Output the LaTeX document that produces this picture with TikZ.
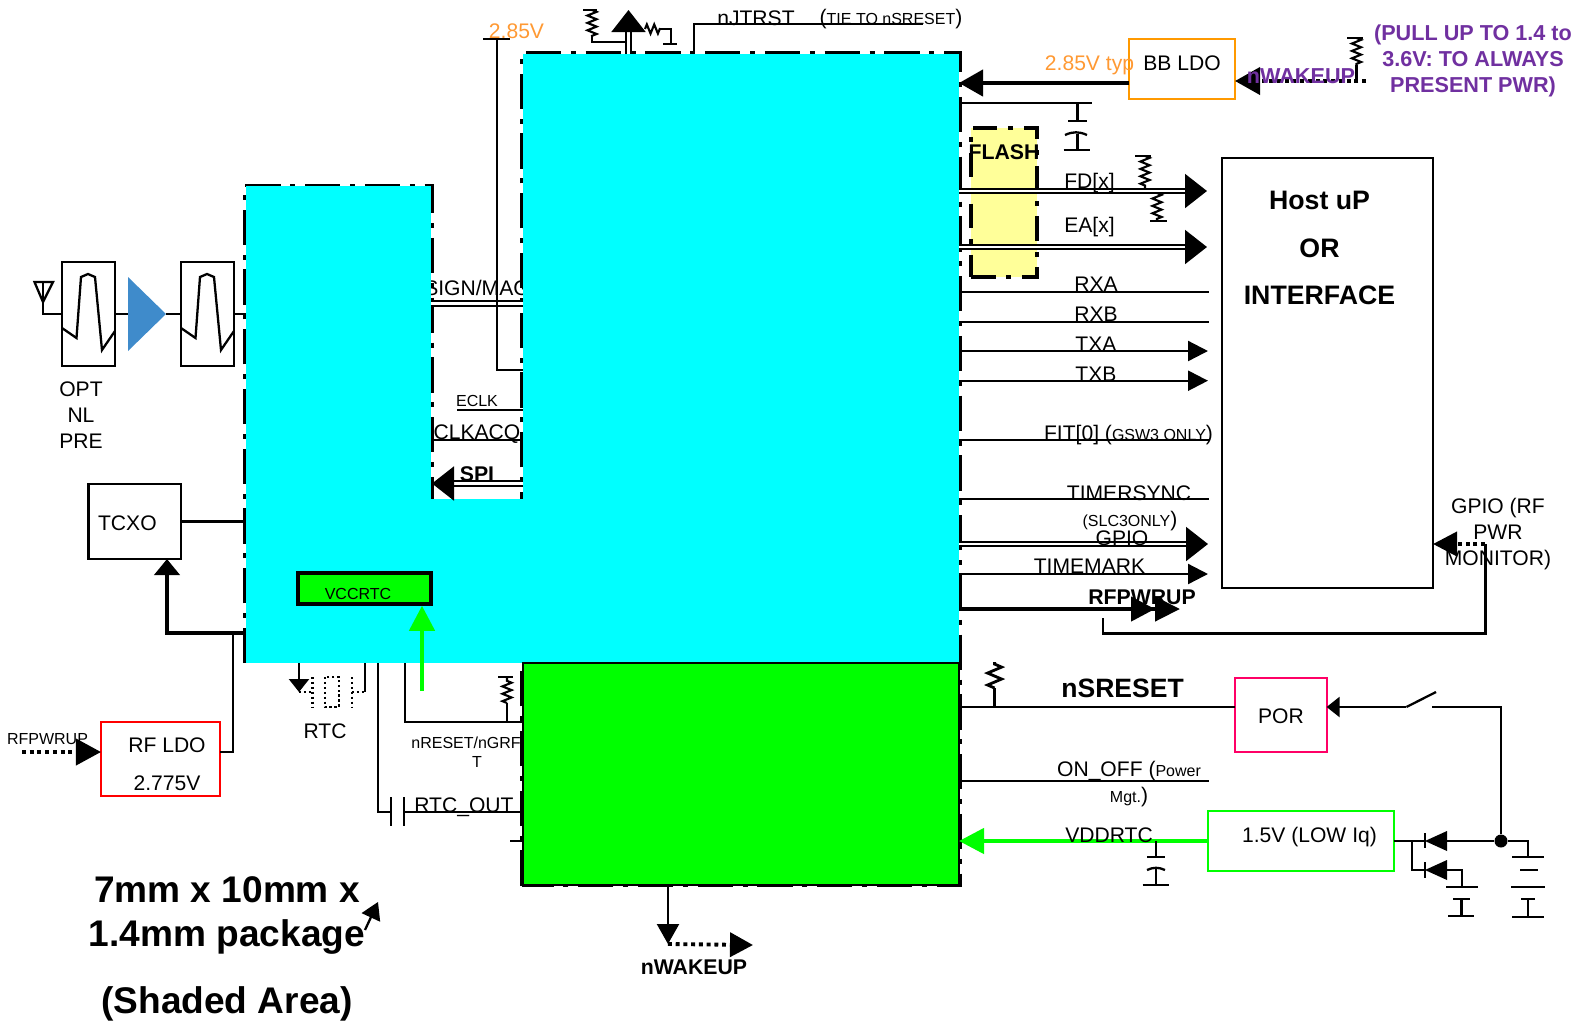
\documentclass[tikz,border=0pt]{standalone}
\usepackage{fontspec}
\setmainfont{Liberation Sans}
\usepackage{xcolor}
\usepackage{tikz}
\usetikzlibrary{arrows.meta,positioning,calc,decorations.pathmorphing}
\definecolor{chipcyan}{HTML}{00FFFF}
\definecolor{rtcgreen}{HTML}{00FF00}
\definecolor{ldoorange}{HTML}{FF9900}
\definecolor{txtorange}{HTML}{FF9933}
\definecolor{pwrpurple}{HTML}{7030A0}
\definecolor{porpink}{HTML}{FF0066}
\definecolor{ampblue}{HTML}{3F8BCB}
\definecolor{flashyellow}{HTML}{FFFF99}
\newcommand{\smallsig}{\fontsize{4.55}{5.5}\selectfont}
\tikzset{
  chipcore/.style  = {rectangle, fill=chipcyan, inner sep=0pt, outer sep=0pt},
  rtccore/.style   = {rectangle, fill=rtcgreen, draw=black, line width=.3pt, inner sep=0pt, outer sep=0pt},
  chipedge/.style  = {draw=black, line width=1pt, dash pattern=on 10pt off 2.8pt on 1.4pt off 2.8pt},
  partbox/.style   = {rectangle, draw=black, line width=.65pt, fill=white, inner sep=0pt, outer sep=0pt},
  ldobox/.style    = {rectangle, line width=.55pt, fill=white, inner sep=0pt, outer sep=0pt},
  wire/.style      = {draw=black, line width=.65pt},
  heavywire/.style = {draw=black, line width=1.25pt},
  buswire/.style   = {draw=black, line width=.55pt, double=white, double distance=.8pt},
  dotwire/.style   = {draw=black, line width=1.1pt, dash pattern=on 1.1pt off 1.1pt},
  xtalwire/.style  = {draw=black, line width=.75pt, dash pattern=on .7pt off .7pt},
  greenwire/.style = {draw=rtcgreen, line width=1.25pt},
  reswire/.style   = {draw=black, line width=.6pt, decorate,
                      decoration={zigzag, amplitude=1.3pt, segment length=2.1pt}},
  tipbus/.style    = {-{Triangle[length=2.2mm,width=3.4mm]}},
  tipsig/.style    = {-{Triangle[length=2mm,width=2mm]}},
  siglbl/.style    = {font=\fontsize{6}{7.4}\selectfont, align=center, inner sep=0pt},
  sigsmall/.style  = {font=\smallsig, align=center, inner sep=0pt},
  sigbold/.style   = {font=\fontsize{6.05}{7.4}\selectfont\bfseries, align=center, inner sep=0pt},
  purplelbl/.style = {font=\fontsize{6.15}{7.5}\selectfont\bfseries, text=pwrpurple, align=center, inner sep=0pt},
  orangelbl/.style = {font=\fontsize{6}{7.4}\selectfont, text=txtorange, inner sep=0pt},
}
\begin{document}
\begin{tikzpicture}[y=-1cm]
  \useasboundingbox (0,0) rectangle (15.75,10.21);

  \node[siglbl] (signmag) at (4.77,2.88) {SIGN/MAG};
  \draw[chipedge] (2.45,6.63) -- (2.45,1.855) -- (4.32,1.855) -- (4.32,5);
  \draw[chipedge] (5.22,8.855) -- (5.22,.53) -- (9.6,.53) -- (9.6,8.855) -- cycle;

  \node[chipcore, minimum width=4.36cm, minimum height=6.09cm] (bbcore) at (7.41,3.585) {};
  \node[chipcore, minimum width=1.85cm, minimum height=4.77cm] (rfcore) at (3.385,4.245) {};
  \node[chipcore, minimum width=.93cm, minimum height=1.64cm]  (bridge) at (4.77,5.81) {};
  \node[rtccore, minimum width=4.36cm, minimum height=2.22cm]  (rtcblk) at (7.41,7.74) {};

  \node[partbox, minimum width=2.11cm, minimum height=4.3cm]  (host)  at (13.275,3.73) {};
  \node[ldobox, draw=ldoorange, minimum width=1.06cm, minimum height=.6cm] (bbldo) at (11.82,.69) {};
  \node[ldobox, draw=porpink, minimum width=.92cm, minimum height=.74cm]   (por)   at (12.806,7.147) {};
  \node[ldobox, draw=rtcgreen, minimum width=1.853cm, minimum height=.6cm] (lowiq) at (13.01,8.41) {};
  \node[ldobox, draw=red, minimum width=1.19cm, minimum height=.74cm]      (rfldo) at (1.605,7.59) {};
  \node[partbox, minimum width=.925cm, minimum height=.75cm]  (tcxo)  at (1.3475,5.215) {};
  \node[rectangle, draw=black, fill=rtcgreen, line width=1pt, inner sep=0pt, minimum width=1.33cm, minimum height=.31cm] (vcc) at (3.645,5.885) {};
  \node[rectangle, draw=black, fill=flashyellow, line width=1.1pt, inner sep=0pt,
        dash pattern=on 7pt off 3pt on 1.5pt off 3pt, minimum width=.66cm, minimum height=1.49cm] (flash) at (10.04,2.025) {};
  \node[partbox, minimum width=.53cm, minimum height=1.04cm] (filta) at (.885,3.14) {};
  \node[partbox, minimum width=.53cm, minimum height=1.04cm] (filtb) at (2.075,3.14) {};

  \draw[wire, shift={(filta.south west)}] (0,-.38) -- (.145,-.28) -- (.19,-.89) -- (.26,-.92) -- (.33,-.89) -- (.40,-.16) -- (.53,-.35);
  \draw[wire, shift={(filtb.south west)}] (0,-.38) -- (.145,-.28) -- (.19,-.89) -- (.26,-.92) -- (.33,-.89) -- (.40,-.16) -- (.53,-.35);

  \coordinate (antfoot) at (.43,3.14);
  \coordinate (ampin)   at (1.28,3.14);
  \coordinate (ampout)  at (1.66,3.14);
  \draw[wire] (.345,2.82) -- (.53,2.82) -- (.43,3.02) -- cycle;
  \draw[wire] (.43,2.82) -- (antfoot) -- (filta.west);
  \fill[ampblue] (1.28,2.77) -- (ampout) -- (1.28,3.51) -- cycle;
  \draw[wire] (filta.east) -- (ampin);
  \draw[wire] (ampout) -- (filtb.west);
  \draw[wire] (filtb.east) -- (filtb.east -| rfcore.west);
  \draw[wire] (tcxo.east) -- (tcxo.east -| rfcore.west);

  \coordinate (rfbias) at (1.67,6.33);
  \draw[heavywire, -{Triangle[length=1.6mm,width=2.5mm]}] (rfbias -| rfcore.west) -- (rfbias) -- (tcxo.south -| rfbias);
  \coordinate (rfout) at (2.33,6.33);
  \draw[wire] (rfout) -- (2.33,7.52) -- (rfldo.east |- 0,7.52);
  \coordinate (rfpin) at (.22,7.52);
  \draw[dotwire, -{Triangle[length=2.5mm,width=2.6mm]}] (rfpin) -- (rfldo.west |- rfpin);

  \coordinate (sigtop)  at (4.97,3.035);
  \draw[buswire] (sigtop -| rfcore.east) -- (sigtop -| bbcore.west);
  \coordinate (eclkpt)  at (4.57,4.1);
  \draw[wire] (eclkpt) -- (eclkpt -| bbcore.west);
  \coordinate (clkpt)   at (4.32,4.4);
  \draw[wire] (clkpt) -- (clkpt -| bbcore.west);
  \coordinate (spipt)   at (4.32,4.835);
  \draw[buswire, tipbus] (spipt -| bbcore.west) -- (spipt);

  \coordinate (v285a) at (4.97,.39);
  \coordinate (v285b) at (4.97,3.7);
  \draw[wire] (v285a) -- (v285b) -- (v285b -| bbcore.west);
  \draw[wire] (4.83,.39) -- (5.1,.39);

  \coordinate (jtagup) at (6.285,.1);
  \draw[buswire, -{Triangle[length=2.2mm,width=3.4mm]}] (jtagup |- bbcore.north) -- (jtagup);
  \draw[wire] (5.83,.1) -- (5.97,.1);
  \draw[reswire] (5.92,.1) -- (5.92,.36);
  \draw[wire] (5.92,.36) -- (5.92,.42) -- (6.25,.42);
  \draw[reswire] (6.45,.29) -- (6.6,.29);
  \draw[wire] (6.6,.29) -- (6.71,.29) -- (6.71,.44);
  \draw[wire] (6.63,.44) -- (6.77,.44);
  \coordinate (jtrst) at (6.94,.24);
  \draw[wire] (jtrst |- bbcore.north) -- (jtrst) -- (9.23,.24);

  \draw[heavywire, -{Triangle[length=2.4mm,width=2.6mm]}] (bbldo.west |- 0,.83) -- (bbcore.east |- 0,.83);
  \coordinate (bbcap) at (10.92,1.03);
  \draw[wire] (bbcap -| bbcore.east) -- (bbcap);
  \draw[wire] (10.775,1.03) -- (10.775,1.21);
  \draw[wire] (10.68,1.21) -- (10.87,1.21);
  \draw[wire] (10.65,1.35) to[bend left=25] (10.87,1.35);
  \draw[wire] (10.775,1.34) -- (10.775,1.5);
  \draw[wire] (10.636,1.5) -- (10.895,1.5);

  \coordinate (fdend) at (12.07,1.91);
  \coordinate (eaend) at (12.07,2.47);
  \draw[buswire, tipbus] (fdend -| bbcore.east) -- (fdend);
  \draw[buswire, tipbus] (eaend -| bbcore.east) -- (eaend);
  \draw[wire] (11.35,1.56) -- (11.51,1.56);
  \draw[reswire] (11.45,1.56) -- (11.45,1.88);
  \draw[reswire] (11.57,1.93) -- (11.57,2.2);
  \draw[wire] (11.5,2.21) -- (11.67,2.21);

  \coordinate (rxaend)  at (12.09,2.917);
  \coordinate (rxbend)  at (12.09,3.217);
  \coordinate (txaend)  at (12.08,3.51);
  \coordinate (txbend)  at (12.08,3.807);
  \coordinate (fitend)  at (12.09,4.4);
  \coordinate (tsyncend) at (12.09,4.99);
  \coordinate (gpioend) at (12.08,5.44);
  \coordinate (tmarkend) at (12.08,5.74);
  \coordinate (pwrupend) at (11.8,6.09);
  \draw[wire] (rxaend -| bbcore.east) -- (rxaend);
  \draw[wire] (rxbend -| bbcore.east) -- (rxbend);
  \draw[wire, tipsig] (txaend -| bbcore.east) -- (txaend);
  \draw[wire, tipsig] (txbend -| bbcore.east) -- (txbend);
  \draw[wire] (fitend -| bbcore.east) -- (fitend);
  \draw[wire] (tsyncend -| bbcore.east) -- (tsyncend);
  \draw[buswire, tipbus] (gpioend -| bbcore.east) -- (gpioend);
  \draw[wire, tipsig] (tmarkend -| bbcore.east) -- (tmarkend);
  \draw[heavywire, -{Triangle[length=2.4mm,width=2.4mm] Triangle[length=2.5mm,width=2.4mm]}] (pwrupend -| bbcore.east) -- (pwrupend);

  \coordinate (retstart) at (11.03,6.18);
  \coordinate (gpiofb)   at (14.85,5.44);
  \draw[draw=black, line width=.85pt] (retstart) -- (11.03,6.33) -- (14.85,6.33) -- (gpiofb);
  \draw[dotwire, -{Triangle[length=2.4mm,width=2.4mm]}] (gpiofb) -- (host.east |- gpiofb);

  \coordinate (wakepin) at (13.66,.81);
  \draw[dotwire, -{Triangle[length=2.5mm,width=2.7mm]}] (wakepin) -- (bbldo.east |- wakepin);
  \draw[wire] (13.47,.38) -- (13.63,.38);
  \draw[reswire] (13.565,.38) -- (13.565,.65);
  \draw[wire] (13.565,.65) -- (13.565,.82);

  \coordinate (swa) at (14.064,7.07);
  \coordinate (swb) at (14.36,6.92);
  \coordinate (swc) at (14.32,7.07);
  \draw[wire] (swa -| por.west) -- (swa -| rtcblk.east);
  \draw[wire] (9.946,7.07) -- (9.946,6.88);
  \draw[reswire, line width=.8pt, decoration={zigzag, amplitude=2pt, segment length=3.4pt}] (9.946,6.88) -- (9.946,6.62);
  \draw[wire, -{Triangle[length=1.3mm,width=2mm]}] (swa) -- (swa -| por.east);
  \draw[wire] (swa) -- (swb);
  \node[circle, fill=black, inner sep=0pt, minimum size=.13cm] (batdot) at (15.01,8.41) {};
  \draw[wire] (swc) -- (15.01,7.07) -- (batdot);

  \coordinate (onoff) at (12.09,7.81);
  \draw[wire] (onoff -| rtcblk.east) -- (onoff);
  \draw[greenwire, -{Triangle[length=2.5mm,width=2.5mm]}] (lowiq.west) -- (lowiq.west -| rtcblk.east);
  \draw[wire] (11.56,8.41) -- (11.56,8.567);
  \draw[wire] (11.47,8.567) -- (11.65,8.567);
  \draw[wire] (11.47,8.7) to[bend left=25] (11.65,8.7);
  \draw[wire] (11.56,8.69) -- (11.56,8.85);
  \draw[wire] (11.425,8.85) -- (11.688,8.85);

  \coordinate (dioa) at (14.25,8.41);
  \coordinate (diob) at (14.25,8.7);
  \draw[wire] (lowiq.east) -- (dioa);
  \draw[wire] (14.12,8.41) -- (14.12,8.7) -- (diob);
  \draw[wire] (dioa |- 0,8.33) -- (dioa |- 0,8.48);
  \draw[wire] (diob |- 0,8.62) -- (diob |- 0,8.78);
  \fill[black] (dioa) -- (14.47,8.31) -- (14.47,8.51) -- cycle;
  \fill[black] (diob) -- (14.47,8.6) -- (14.47,8.8) -- cycle;
  \draw[wire] (14.47,8.41) -- (batdot);
  \draw[wire] (batdot) -- (15.28,8.41) -- (15.28,8.57);
  \draw[wire] (15.12,8.57) -- (15.44,8.57);
  \draw[wire] (15.2,8.7) -- (15.38,8.7);
  \draw[wire] (15.11,8.87) -- (15.447,8.87);
  \draw[wire] (15.21,8.99) -- (15.35,8.99);
  \draw[wire] (15.28,8.99) -- (15.28,9.17);
  \draw[wire] (15.12,9.17) -- (15.44,9.17);
  \draw[wire] (14.47,8.7) -- (14.62,8.7) -- (14.62,8.87);
  \draw[wire] (14.46,8.87) -- (14.78,8.87);
  \draw[wire] (14.53,8.99) -- (14.7,8.99);
  \draw[wire] (14.615,8.99) -- (14.615,9.16);
  \draw[wire] (14.48,9.16) -- (14.74,9.16);

  \coordinate (vccfeed) at (4.22,6.91);
  \draw[greenwire, -{Triangle[length=2.5mm,width=2.5mm]}] (vccfeed) -- (vccfeed |- vcc.south);

  \coordinate (xtala) at (2.99,6.92);
  \coordinate (xtalb) at (3.65,6.92);
  \draw[wire, -{Triangle[length=1.3mm,width=2mm]}] (xtala |- rfcore.south) -- (xtala);
  \draw[wire] (xtalb |- rfcore.south) -- (xtalb);
  \draw[xtalwire] (xtala) -- (3.127,6.92);
  \draw[xtalwire] (3.52,6.92) -- (xtalb);
  \draw[xtalwire] (3.127,6.77) -- (3.127,7.07);
  \draw[xtalwire] (3.52,6.77) -- (3.52,7.07);
  \draw[xtalwire] (3.25,6.77) rectangle (3.39,7.07);

  \coordinate (rtcup) at (3.78,8.12);
  \draw[wire] (rtcup |- bbcore.south) -- (rtcup) -- (3.91,8.12);
  \draw[wire] (3.91,7.97) -- (3.91,8.26);
  \draw[wire] (4.04,7.97) -- (4.04,8.26);
  \draw[wire] (4.04,8.12) -- (4.04,8.12 -| rtcblk.west);
  \coordinate (rstpt) at (4.05,7.22);
  \draw[wire] (rstpt |- bbcore.south) -- (rstpt) -- (rstpt -| rtcblk.west);
  \draw[wire] (5.07,7.22) -- (5.07,7.03);
  \draw[reswire] (5.07,7.03) -- (5.07,6.78);
  \draw[wire] (4.98,6.77) -- (5.13,6.77);
  \coordinate (stub) at (5.1,8.41);
  \draw[wire] (stub) -- (stub -| rtcblk.west);

  \coordinate (wakedn) at (6.68,9.44);
  \coordinate (wakeend) at (7.53,9.45);
  \draw[wire, -{Triangle[length=2mm,width=2.2mm]}] (wakedn |- rtcblk.south) -- (wakedn);
  \draw[dotwire, -{Triangle[length=2.3mm,width=2.4mm]}] (wakedn) -- (wakeend);

  \coordinate (pkgfoot) at (3.65,9.3);
  \coordinate (pkgtip)  at (3.78,9.02);
  \draw[wire, -{Triangle[length=1.7mm,width=2mm]}] (pkgfoot) -- (pkgtip);

  \node[orangelbl] (v285lbl) at (5.165,.31) {2.85V};
  \node[orangelbl] (typlbl)  at (10.895,.65) {2.85V typ};
  \node[siglbl]    (bblbl)   at (11.82,.63) {BB LDO};
  \node[siglbl]    (jtrstlbl) at (7.56,.18) {nJTRST};
  \node[siglbl]    (tielbl)  at (8.91,.195) {({\smallsig TIE TO nSRESET})};
  \node[purplelbl] (wakelbl) at (13.01,.76) {nWAKEUP};
  \node[purplelbl] (pulllbl) at (14.73,.61) {(PULL UP TO 1.4 to\\3.6V: TO ALWAYS\\PRESENT PWR)};
  \node[sigbold]   (flashlbl) at (10.04,1.52) {FLASH};
  \node[siglbl]    (fdlbl)   at (10.895,1.83) {FD[x]};
  \node[siglbl]    (ealbl)   at (10.895,2.27) {EA[x]};
  \node[font=\fontsize{7.6}{13.6}\selectfont\bfseries, align=center, inner sep=0pt] (hostlbl) at (13.195,2.48) {Host uP\\OR\\INTERFACE};
  \node[siglbl]    (rxalbl)  at (10.96,2.84) {RXA};
  \node[siglbl]    (rxblbl)  at (10.96,3.14) {RXB};
  \node[siglbl]    (txalbl)  at (10.96,3.44) {TXA};
  \node[siglbl]    (txblbl)  at (10.96,3.74) {TXB};
  \node[siglbl]    (fitlbl)  at (11.285,4.35) {FIT[0] ({\smallsig GSW3 ONLY})};
  \node[siglbl]    (tsynclbl) at (11.29,4.93) {TIMERSYNC};
  \node[siglbl]    (slclbl)  at (11.3,5.21) {{\smallsig (SLC3ONLY})};
  \node[siglbl]    (gpiolbl) at (11.22,5.38) {GPIO};
  \node[siglbl]    (tmarklbl) at (10.895,5.66) {TIMEMARK};
  \node[sigbold]   (pwruplbl) at (11.42,5.97) {RFPWRUP};
  \node[siglbl]    (fblbl)   at (14.98,5.345) {GPIO (RF\\PWR\\MONITOR)};
  \node[siglbl]    (porlbl)  at (12.81,7.16) {POR};
  \node[siglbl]    (tcxolbl) at (1.274,5.23) {TCXO};
  \node[font=\fontsize{7.55}{9}\selectfont\bfseries, inner sep=0pt] (sreslbl) at (11.226,6.885) {nSRESET};
  \node[siglbl]    (onofflbl) at (11.29,7.71) {ON\_OFF ({\smallsig Power}};
  \node[siglbl]    (mgtlbl)  at (11.29,7.97) {{\smallsig Mgt.})};
  \node[siglbl]    (vddlbl)  at (11.09,8.35) {VDDRTC};
  \node[siglbl]    (lowlbl)  at (13.095,8.37) {1.5V (LOW Iq)};
  \node[siglbl]    (optlbl)  at (.81,4.15) {OPT\\NL\\PRE};
  \node[siglbl, font=\fontsize{6}{10.8}\selectfont] (rfldolbl) at (1.67,7.645) {RF LDO\\2.775V};
  \node[sigsmall]  (rfpinlbl) at (.475,7.395) {RFPWRUP};
  \node[sigsmall]  (vcclbl)  at (3.58,5.935) {VCCRTC};
  \node[siglbl]    (rtclbl)  at (3.25,7.31) {RTC};
  \node[sigsmall, font=\fontsize{4.55}{5.4}\selectfont] (rstlbl) at (4.77,7.52) {nRESET/nGRF\rule{6.2pt}{0pt}\\T};
  \node[siglbl]    (rtcoutlbl) at (4.64,8.07) {RTC\_OUT};
  \node[sigsmall]  (eclklbl) at (4.77,4.01) {ECLK};
  \node[siglbl]    (clklbl)  at (4.77,4.345) {CLKACQ};
  \node[sigbold]   (spilbl)  at (4.77,4.74) {SPI};
  \node[sigbold]   (wakebot) at (6.94,9.675) {nWAKEUP};
  \node[font=\fontsize{10.55}{12.5}\selectfont\bfseries, align=center, inner sep=0pt] (pkglbl) at (2.27,9.49) {7mm x 10mm x\\1.4mm package\\[6.5pt](Shaded Area)};
\end{tikzpicture}
\end{document}
